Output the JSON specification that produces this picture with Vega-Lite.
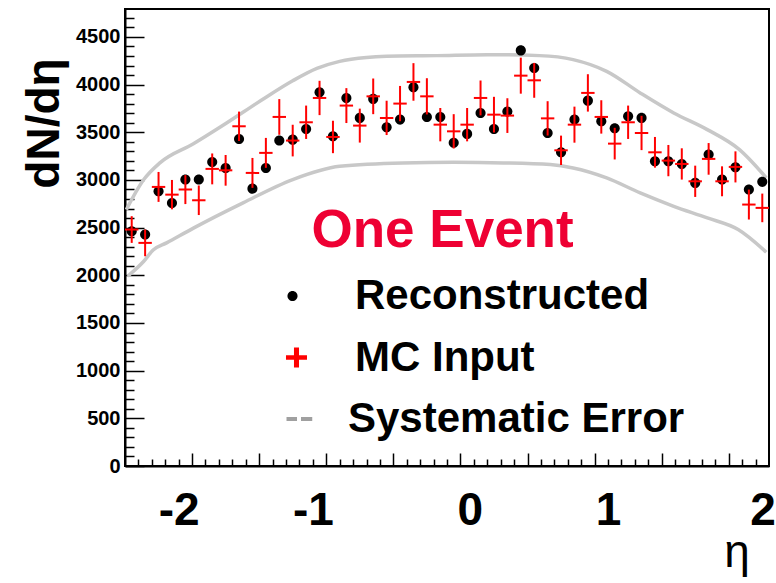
{
  "$schema": "https://vega.github.io/schema/vega-lite/v6.json",
  "width": 644,
  "height": 457,
  "autosize": {"type": "none"},
  "padding": {"left": 125, "top": 9, "right": 7, "bottom": 117},
  "background": "white",
  "config": {
    "view": {"stroke": "black", "strokeWidth": 2},
    "font": "Liberation Sans",
    "axis": {"grid": false}
  },
  "resolve": {"axis": {"x": "independent", "y": "independent"}},
  "datasets": {
    "bins": [
      {"eta": -2.35, "reco": 2462, "mc": 2480, "err": 140},
      {"eta": -2.25, "reco": 2427, "mc": 2340, "err": 140},
      {"eta": -2.15, "reco": 2881, "mc": 2927, "err": 157},
      {"eta": -2.05, "reco": 2759, "mc": 2846, "err": 154},
      {"eta": -1.95, "reco": 3004, "mc": 2899, "err": 152},
      {"eta": -1.85, "reco": 3004, "mc": 2787, "err": 155},
      {"eta": -1.75, "reco": 3189, "mc": 3116, "err": 162},
      {"eta": -1.65, "reco": 3126, "mc": 3101, "err": 161},
      {"eta": -1.55, "reco": 3430, "mc": 3563, "err": 154},
      {"eta": -1.45, "reco": 2909, "mc": 3074, "err": 157},
      {"eta": -1.35, "reco": 3126, "mc": 3284, "err": 157},
      {"eta": -1.25, "reco": 3413, "mc": 3661, "err": 187},
      {"eta": -1.15, "reco": 3423, "mc": 3413, "err": 166},
      {"eta": -1.05, "reco": 3535, "mc": 3605, "err": 175},
      {"eta": -0.95, "reco": 3919, "mc": 3860, "err": 180},
      {"eta": -0.85, "reco": 3458, "mc": 3451, "err": 170},
      {"eta": -0.75, "reco": 3860, "mc": 3780, "err": 183},
      {"eta": -0.65, "reco": 3651, "mc": 3570, "err": 178},
      {"eta": -0.55, "reco": 3850, "mc": 3877, "err": 187},
      {"eta": -0.45, "reco": 3552, "mc": 3651, "err": 180},
      {"eta": -0.35, "reco": 3633, "mc": 3801, "err": 185},
      {"eta": -0.25, "reco": 3972, "mc": 4028, "err": 197},
      {"eta": -0.15, "reco": 3661, "mc": 3877, "err": 190},
      {"eta": -0.05, "reco": 3661, "mc": 3580, "err": 175},
      {"eta": 0.05, "reco": 3389, "mc": 3510, "err": 180},
      {"eta": 0.15, "reco": 3483, "mc": 3580, "err": 175},
      {"eta": 0.25, "reco": 3703, "mc": 3860, "err": 183},
      {"eta": 0.35, "reco": 3535, "mc": 3685, "err": 187},
      {"eta": 0.45, "reco": 3717, "mc": 3675, "err": 182},
      {"eta": 0.55, "reco": 4359, "mc": 4094, "err": 189},
      {"eta": 0.65, "reco": 4175, "mc": 4045, "err": 183},
      {"eta": 0.75, "reco": 3493, "mc": 3646, "err": 180},
      {"eta": 0.85, "reco": 3290, "mc": 3311, "err": 154},
      {"eta": 0.95, "reco": 3633, "mc": 3580, "err": 189},
      {"eta": 1.05, "reco": 3832, "mc": 3913, "err": 196},
      {"eta": 1.15, "reco": 3615, "mc": 3661, "err": 175},
      {"eta": 1.25, "reco": 3542, "mc": 3381, "err": 166},
      {"eta": 1.35, "reco": 3668, "mc": 3605, "err": 175},
      {"eta": 1.45, "reco": 3651, "mc": 3493, "err": 180},
      {"eta": 1.55, "reco": 3196, "mc": 3290, "err": 161},
      {"eta": 1.65, "reco": 3196, "mc": 3203, "err": 164},
      {"eta": 1.75, "reco": 3168, "mc": 3168, "err": 164},
      {"eta": 1.85, "reco": 2969, "mc": 2986, "err": 164},
      {"eta": 1.95, "reco": 3266, "mc": 3221, "err": 166},
      {"eta": 2.05, "reco": 3004, "mc": 2986, "err": 157},
      {"eta": 2.15, "reco": 3133, "mc": 3137, "err": 163},
      {"eta": 2.25, "reco": 2899, "mc": 2742, "err": 157},
      {"eta": 2.35, "reco": 2980, "mc": 2707, "err": 150}
    ],
    "syst": [
      {"eta": -2.39, "band": "upper", "v": 2689},
      {"eta": -2.26, "band": "upper", "v": 3004},
      {"eta": -2.14, "band": "upper", "v": 3179},
      {"eta": -1.89, "band": "upper", "v": 3380},
      {"eta": -1.64, "band": "upper", "v": 3600},
      {"eta": -1.39, "band": "upper", "v": 3830},
      {"eta": -1.15, "band": "upper", "v": 4040},
      {"eta": -0.97, "band": "upper", "v": 4170},
      {"eta": -0.80, "band": "upper", "v": 4244},
      {"eta": -0.60, "band": "upper", "v": 4285},
      {"eta": -0.45, "band": "upper", "v": 4297},
      {"eta": -0.08, "band": "upper", "v": 4304},
      {"eta": 0.30, "band": "upper", "v": 4314},
      {"eta": 0.69, "band": "upper", "v": 4304},
      {"eta": 0.94, "band": "upper", "v": 4262},
      {"eta": 1.19, "band": "upper", "v": 4139},
      {"eta": 1.44, "band": "upper", "v": 3913},
      {"eta": 1.69, "band": "upper", "v": 3703},
      {"eta": 1.94, "band": "upper", "v": 3528},
      {"eta": 2.18, "band": "upper", "v": 3318},
      {"eta": 2.38, "band": "upper", "v": 3022},
      {"eta": -2.38, "band": "lower", "v": 1990},
      {"eta": -2.26, "band": "lower", "v": 2147},
      {"eta": -2.19, "band": "lower", "v": 2265},
      {"eta": -2.09, "band": "lower", "v": 2340},
      {"eta": -1.89, "band": "lower", "v": 2495},
      {"eta": -1.52, "band": "lower", "v": 2760},
      {"eta": -1.15, "band": "lower", "v": 3004},
      {"eta": -0.80, "band": "lower", "v": 3143},
      {"eta": -0.33, "band": "lower", "v": 3179},
      {"eta": 0.05, "band": "lower", "v": 3185},
      {"eta": 0.42, "band": "lower", "v": 3179},
      {"eta": 0.77, "band": "lower", "v": 3161},
      {"eta": 0.94, "band": "lower", "v": 3126},
      {"eta": 1.19, "band": "lower", "v": 3022},
      {"eta": 1.44, "band": "lower", "v": 2864},
      {"eta": 1.69, "band": "lower", "v": 2724},
      {"eta": 1.94, "band": "lower", "v": 2602},
      {"eta": 2.17, "band": "lower", "v": 2480},
      {"eta": 2.38, "band": "lower", "v": 2242}
    ]
  },
  "layer": [
    {
      "data": {"name": "syst"},
      "mark": {"type": "line", "color": "#c8c8c8", "strokeWidth": 3.5, "interpolate": "monotone", "clip": true},
      "encoding": {
        "x": {"field": "eta", "type": "quantitative", "axis": null},
        "y": {"field": "v", "type": "quantitative", "axis": null},
        "detail": {"field": "band"}
      }
    },
    {
      "data": {"name": "bins"},
      "mark": {"type": "point", "filled": true, "size": 441, "opacity": 1, "strokeWidth": 0},
      "encoding": {
        "x": {
          "field": "eta", "type": "quantitative",
          "scale": {"domain": [-2.4, 2.4], "nice": false, "zero": false},
          "axis": {
            "title": "η",
            "values": [-2.3,-2.2,-2.1,-2,-1.9,-1.8,-1.7,-1.6,-1.5,-1.4,-1.3,-1.2,-1.1,-1,-0.9,-0.8,-0.7,-0.6,-0.5,-0.4,-0.3,-0.2,-0.1,0,0.1,0.2,0.3,0.4,0.5,0.6,0.7,0.8,0.9,1,1.1,1.2,1.3,1.4,1.5,1.6,1.7,1.8,1.9,2,2.1,2.2,2.3],
            "tickSize": {"condition": {"test": "abs((datum.value + 1.9) * 2 - round((datum.value + 1.9) * 2)) < 0.01", "value": -13}, "value": -7},
            "tickColor": "black",
            "tickWidth": 1.5,
            "domainColor": "black",
            "domainWidth": 2,
            "labelExpr": "abs(datum.value + 2) < 0.01 ? '-2' : abs(datum.value + 1) < 0.01 ? '-1' : abs(datum.value - 0.2) < 0.01 ? '0' : abs(datum.value - 1.2) < 0.01 ? '1' : abs(datum.value - 2.3) < 0.01 ? '2' : ''",
            "labelFont": "Liberation Sans",
            "labelFontWeight": "bold",
            "labelFontSize": 46,
            "labelColor": "black",
            "labelBaseline": "alphabetic",
            "labelPadding": 65,
            "labelOffset": {"condition": [{"test": "abs(datum.value - 2.3) < 0.01", "value": 7}, {"test": "abs(datum.value - 0.2) < 0.01", "value": -4}], "value": 0},
            "labelOverlap": false,
            "labelFlush": false,
            "labelBound": false,
            "titleFont": "Liberation Sans",
            "titleFontSize": 46,
            "titleFontWeight": "normal",
            "titleColor": "black",
            "titleX": 611.5,
            "titleY": 100,
            "titleAlign": "center",
            "titleBaseline": "alphabetic"
          }
        },
        "y": {
          "field": "reco", "type": "quantitative",
          "scale": {"domain": [0, 4793], "nice": false, "zero": false},
          "axis": {
            "title": "dN/dη",
            "values": [0,100,200,300,400,500,600,700,800,900,1000,1100,1200,1300,1400,1500,1600,1700,1800,1900,2000,2100,2200,2300,2400,2500,2600,2700,2800,2900,3000,3100,3200,3300,3400,3500,3600,3700,3800,3900,4000,4100,4200,4300,4400,4500,4600,4700],
            "tickSize": {"condition": {"test": "datum.value % 500 === 0", "value": -19}, "value": -9},
            "tickColor": "black",
            "tickWidth": 1.5,
            "domainColor": "black",
            "domainWidth": 2,
            "labelExpr": "datum.value % 500 === 0 ? '' + datum.value : ''",
            "labelFont": "Liberation Sans",
            "labelFontWeight": "bold",
            "labelFontSize": 20,
            "labelColor": "black",
            "labelPadding": 24,
            "labelOverlap": false,
            "labelFlush": false,
            "labelBound": false,
            "titleFont": "Liberation Sans",
            "titleFontSize": 46,
            "titleFontWeight": "bold",
            "titleColor": "black",
            "titleAngle": 270,
            "titleX": -67,
            "titleY": 114,
            "titleAlign": "center",
            "titleBaseline": "alphabetic"
          }
        },
        "color": {
          "datum": "Reconstructed", "type": "nominal",
          "scale": {"domain": ["Reconstructed", "MC Input", "Systematic Error"], "range": ["black", "#ff0000", "#a0a0a0"]},
          "legend": {
            "title": "One Event",
            "orient": "none",
            "legendX": 146.5,
            "legendY": 196,
            "direction": "vertical",
            "padding": 0,
            "titleFont": "Liberation Sans",
            "titleFontSize": 53,
            "titleFontWeight": "bold",
            "titleColor": "#ee0033",
            "titlePadding": 17,
            "titleLimit": 600,
            "labelFont": "Liberation Sans",
            "labelFontSize": 42,
            "labelFontWeight": "bold",
            "labelColor": "black",
            "labelOffset": 41.5,
            "labelLimit": 600,
            "symbolSize": 441,
            "symbolStrokeWidth": 0,
            "symbolOpacity": 1,
            "rowPadding": 19.5,
            "encode": {
              "title": {"update": {"dx": {"value": 40}}},
              "labels": {"update": {"dx": [{"test": "datum.value === 'Systematic Error'", "value": -7}, {"value": 0}]}}
            }
          }
        },
        "shape": {
          "datum": "Reconstructed", "type": "nominal",
          "scale": {"domain": ["Reconstructed", "MC Input", "Systematic Error"], "range": [
            "M0.48,0A0.48,0.48 0 1 1 -0.48,0A0.48,0.48 0 1 1 0.48,0Z",
            "M-0.62,-0.22H1.38V0.22H-0.62ZM0.14,-0.95H0.62V0.95H0.14Z",
            "M-0.57,-0.2H0.43V0.2H-0.57ZM0.81,-0.2H1.88V0.2H0.81Z"
          ]},
          "legend": {
            "title": "One Event",
            "orient": "none",
            "legendX": 146.5,
            "legendY": 196
          }
        }
      }
    },
    {
      "data": {"name": "bins"},
      "mark": {"type": "errorbar", "ticks": false, "rule": {"stroke": "#ff0000", "strokeWidth": 2}},
      "encoding": {
        "x": {"field": "eta", "type": "quantitative", "axis": null},
        "y": {"field": "mc", "type": "quantitative", "axis": null},
        "yError": {"field": "err"}
      }
    },
    {
      "data": {"name": "bins"},
      "mark": {"type": "tick", "orient": "horizontal", "size": 13.4, "thickness": 2, "color": "#ff0000", "opacity": 1},
      "encoding": {
        "x": {"field": "eta", "type": "quantitative", "axis": null},
        "y": {"field": "mc", "type": "quantitative", "axis": null}
      }
    }
  ]
}
